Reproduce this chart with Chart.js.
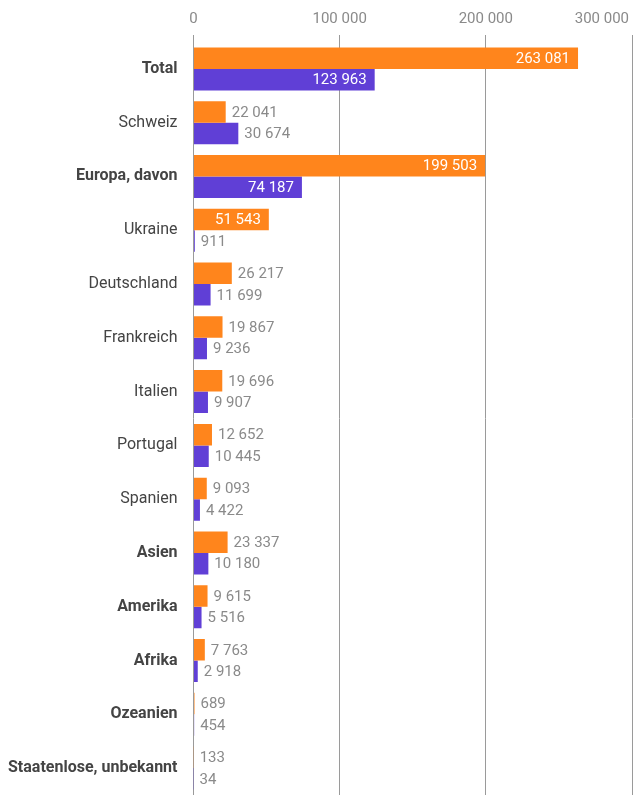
<!DOCTYPE html>
<html>
<head>
<meta charset="utf-8">
<script src="https://cdn.jsdelivr.net/npm/chart.js@4/dist/chart.umd.min.js"></script>
<style>
  body { margin: 0; background: #fff; }
  #box { width: 633px; height: 795px; position: relative; }
</style>
</head>
<body>
<div id="box"><canvas id="graf"></canvas></div>
<script>
  const kategorien = ["Total", "Schweiz", "Europa, davon", "Ukraine", "Deutschland", "Frankreich",
    "Italien", "Portugal", "Spanien", "Asien", "Amerika", "Afrika", "Ozeanien", "Staatenlose, unbekannt"];
  const fett = ["Total", "Europa, davon", "Asien", "Amerika", "Afrika", "Ozeanien", "Staatenlose, unbekannt"];
  const serieA = [263081, 22041, 199503, 51543, 26217, 19867, 19696, 12652, 9093, 23337, 9615, 7763, 689, 133];
  const serieB = [123963, 30674, 74187, 911, 11699, 9236, 9907, 10445, 4422, 10180, 5516, 2918, 454, 34];
  const achsenTicks = [0, 100000, 200000, 300000];

  function zahl(n) {
    return n.toString().replace(/\B(?=(\d{3})+(?!\d))/g, " ");
  }

  // Werte an den Balken: innen weiss wenn Platz, sonst grau daneben
  const balkenText = {
    id: "balkenText",
    afterDatasetsDraw(chart) {
      const ctx = chart.ctx;
      ctx.save();
      ctx.font = "15px Roboto";
      ctx.textBaseline = "middle";
      chart.data.datasets.forEach((ds, i) => {
        chart.getDatasetMeta(i).data.forEach((bar, j) => {
          const txt = zahl(ds.data[j]);
          const w = ctx.measureText(txt).width;
          const len = bar.x - bar.base;
          if (len > w + 16) {
            ctx.fillStyle = "#ffffff";
            ctx.textAlign = "right";
            ctx.fillText(txt, bar.x - 8, bar.y + 1);
          } else {
            ctx.fillStyle = "#8a8a8a";
            ctx.textAlign = "left";
            ctx.fillText(txt, bar.x + 6, bar.y + 1);
          }
        });
      });
      ctx.restore();
    }
  };

  // Achsenbeschriftung oben, letzte Zahl bleibt im Bild
  const achsenText = {
    id: "achsenText",
    afterDraw(chart) {
      const ctx = chart.ctx;
      const xs = chart.scales.x;
      ctx.save();
      ctx.font = "15px Roboto";
      ctx.fillStyle = "#8a8a8a";
      ctx.textBaseline = "middle";
      ctx.textAlign = "center";
      achsenTicks.forEach(v => {
        const txt = zahl(v);
        const w = ctx.measureText(txt).width;
        const px = Math.min(xs.getPixelForValue(v), chart.width - 4 - w / 2);
        ctx.fillText(txt, px, 19);
      });
      ctx.restore();
    }
  };

  const ctx = document.getElementById("graf").getContext("2d");
  new Chart(ctx, {
    type: "bar",
    data: {
      labels: kategorien,
      datasets: [
        { data: serieA, backgroundColor: "#ff851c", categoryPercentage: 0.8, barPercentage: 1 },
        { data: serieB, backgroundColor: "#603fd6", categoryPercentage: 0.8, barPercentage: 1 }
      ]
    },
    options: {
      indexAxis: "y",
      responsive: true,
      maintainAspectRatio: false,
      animation: false,
      layout: { padding: { left: 0, top: 35, right: 1, bottom: 0 } },
      plugins: { legend: { display: false }, tooltip: { enabled: false } },
      scales: {
        x: {
          position: "top",
          min: 0,
          max: 300000,
          afterBuildTicks: axis => { axis.ticks = achsenTicks.map(v => ({ value: v })); },
          afterFit: s => { s.paddingLeft = 0; s.paddingRight = 0; },
          grid: { color: "#9a9a9a", lineWidth: 1, tickLength: 7, drawTicks: true },
          border: { display: false },
          ticks: { display: false }
        },
        y: {
          afterFit: s => { s.paddingTop = 0; s.paddingBottom = 0; },
          grid: { display: false },
          border: { display: false },
          ticks: {
            color: "#444444",
            padding: 8,
            font: ctx => ({
              family: "Roboto",
              size: 16,
              weight: fett.includes(kategorien[ctx.index]) ? "bold" : "normal"
            })
          }
        }
      }
    },
    plugins: [balkenText, achsenText]
  });
</script>
</body>
</html>
